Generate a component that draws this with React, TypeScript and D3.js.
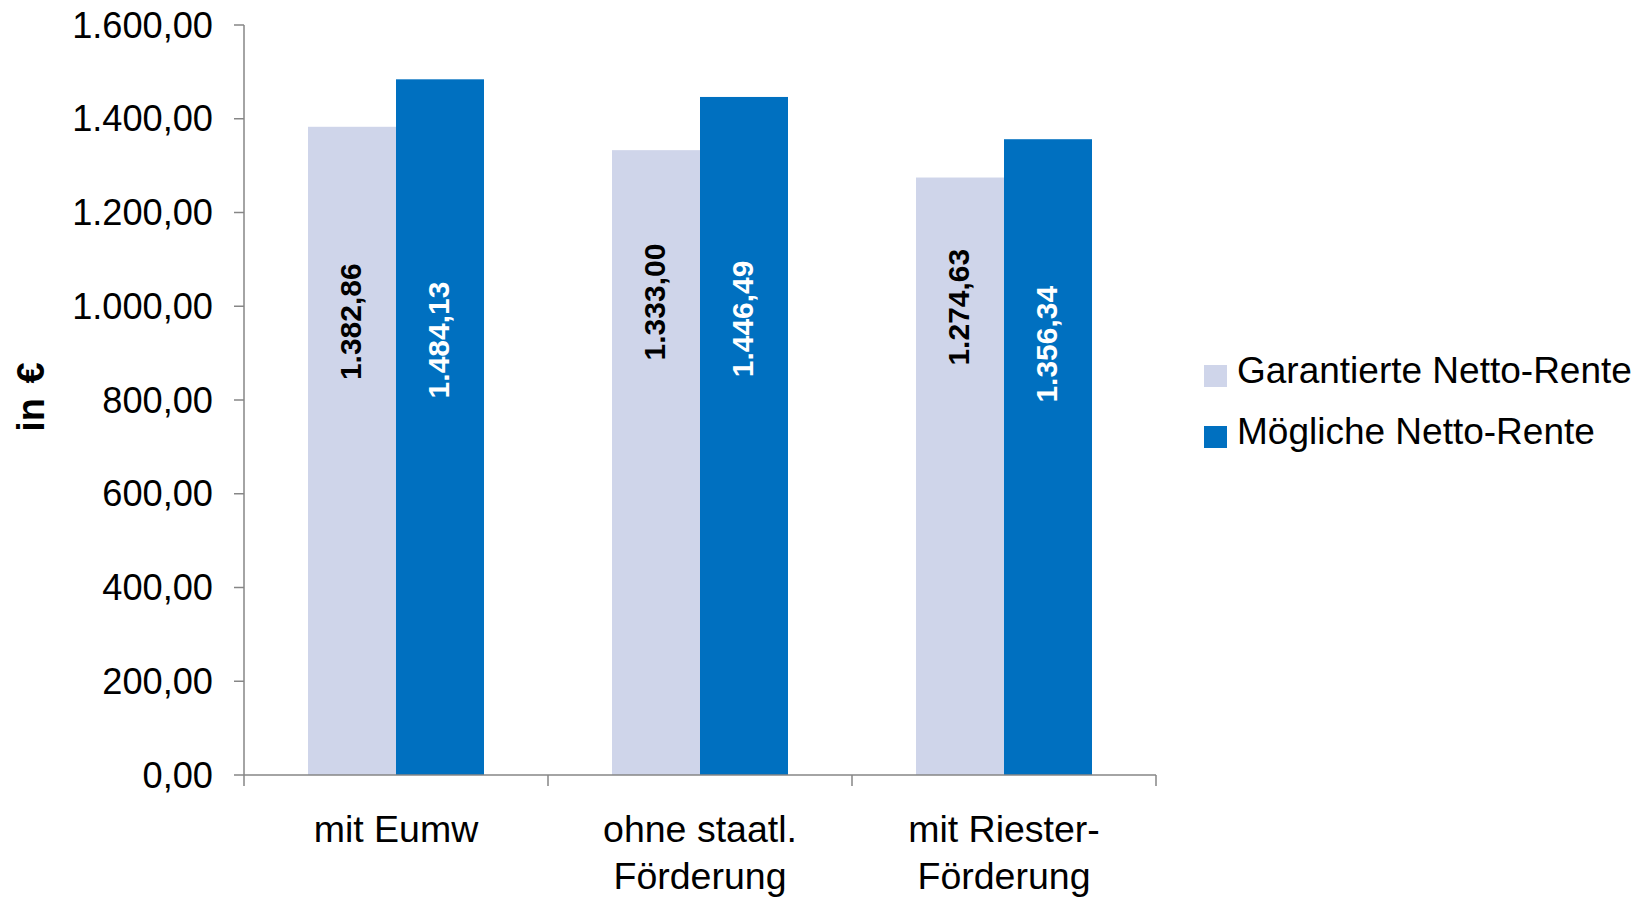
import React from "react";
import * as d3 from "d3";

const categories: string[][] = [
  ["mit Eumw"],
  ["ohne staatl.", "Förderung"],
  ["mit Riester-", "Förderung"],
];
const seriesNames = ["Garantierte Netto-Rente", "Mögliche Netto-Rente"];
const garantiert = [1382.86, 1333.0, 1274.63];
const moeglich = [1484.13, 1446.49, 1356.34];
const yTicks = [0, 200, 400, 600, 800, 1000, 1200, 1400, 1600];
// where (in value units) each rotated data label is centred, as in the reference
const labelCentreGarantiert = [967, 1009, 998];
const labelCentreMoeglich = [928, 973, 919];

const colors = ["#CFD5EA", "#0070C0"];
const labelColors = ["#000000", "#FFFFFF"];
const FONT = "'Liberation Sans', Arial, Helvetica, sans-serif";

const de = d3.formatLocale({
  decimal: ",",
  thousands: ".",
  grouping: [3],
  currency: ["", " €"],
});
const fmt = de.format(",.2f");

export default function App() {
  const W = 1635;
  const H = 898;
  const left = 244;
  const right = 1156;
  const top = 25;
  const bottom = 775;

  const catKeys = categories.map((c) => c.join(" "));
  const x0 = d3.scaleBand<string>().domain(catKeys).range([left, right]).padding(0);
  const groupW = 176;
  const x1 = d3
    .scaleBand<string>()
    .domain(seriesNames)
    .range([0, groupW])
    .padding(0);
  const y = d3.scaleLinear().domain([0, 1600]).range([bottom, top]);

  const series = [garantiert, moeglich];
  const labelCentres = [labelCentreGarantiert, labelCentreMoeglich];

  const axisColor = "#868686";

  return (
    <svg
      width={W}
      height={H}
      style={{ position: "absolute", left: 0, top: 0, background: "#fff" }}
      fontFamily={FONT}
    >
      <rect x={0} y={0} width={W} height={H} fill="#fff" />
      {/* bars */}
      {catKeys.map((ck, ci) => {
        const gx = (x0(ck) as number) + (x0.bandwidth() - groupW) / 2;
        return (
          <g key={ck}>
            {series.map((s, si) => {
              const bx = gx + (x1(seriesNames[si]) as number);
              const bw = x1.bandwidth();
              const v = s[ci];
              const cx = bx + bw / 2;
              const cy = y(labelCentres[si][ci]);
              return (
                <g key={si}>
                  <rect
                    x={bx}
                    y={y(v)}
                    width={bw}
                    height={y(0) - y(v)}
                    fill={colors[si]}
                  />
                  <text
                    transform={`translate(${cx - 2},${cy}) rotate(-90)`}
                    textAnchor="middle"
                    dominantBaseline="central"
                    fontSize={30}
                    fontWeight="bold"
                    fill={labelColors[si]}
                  >
                    {fmt(v)}
                  </text>
                </g>
              );
            })}
          </g>
        );
      })}

      {/* y axis */}
      <line x1={left} x2={left} y1={top} y2={bottom} stroke={axisColor} strokeWidth={1.5} />
      {yTicks.map((t) => (
        <g key={t}>
          <line x1={left - 10} x2={left} y1={y(t)} y2={y(t)} stroke={axisColor} strokeWidth={1.5} />
          <text
            x={213}
            y={y(t)}
            textAnchor="end"
            dominantBaseline="central"
            fontSize={36.2}
            fill="#000"
          >
            {fmt(t)}
          </text>
        </g>
      ))}

      {/* x axis */}
      <line x1={left} x2={right} y1={bottom} y2={bottom} stroke={axisColor} strokeWidth={1.5} />
      {[...catKeys.map((ck) => x0(ck) as number), right].map((xx, i) => (
        <line key={i} x1={xx} x2={xx} y1={bottom} y2={bottom + 11} stroke={axisColor} strokeWidth={1.5} />
      ))}
      {categories.map((lines, ci) => {
        const cx = (x0(catKeys[ci]) as number) + x0.bandwidth() / 2;
        return (
          <text key={ci} textAnchor="middle" fontSize={37.5} fill="#000">
            {lines.map((ln, li) => (
              <tspan key={li} x={cx} y={842 + li * 47}>
                {ln}
              </tspan>
            ))}
          </text>
        );
      })}

      {/* y axis title */}
      <text
        transform={`translate(31,397) rotate(-90)`}
        textAnchor="middle"
        dominantBaseline="central"
        fontSize={38}
        fontWeight="bold"
        wordSpacing={4}
        fill="#000"
      >
        in €
      </text>

      {/* legend */}
      {seriesNames.map((n, i) => (
        <g key={n} transform={`translate(1204,${365 + i * 61})`}>
          <rect x={0} y={0} width={23} height={22} fill={colors[i]} />
          <text x={33} y={18} fontSize={37} fill="#000">
            {n}
          </text>
        </g>
      ))}
    </svg>
  );
}
